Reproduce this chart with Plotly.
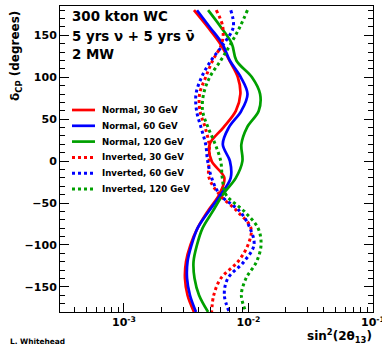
import plotly.graph_objects as go

# ---------------- data ----------------
delta_cp = [180, 160, 140, 120, 100, 80, 60, 40, 20, 0,
            -20, -40, -60, -80, -100, -120, -140, -160, -180]

normal_30 = [0.00365, 0.00470, 0.00593, 0.00703, 0.00822, 0.00861, 0.00792, 0.00628, 0.00488, 0.00506,
             0.00640, 0.00582, 0.00470, 0.00390, 0.00342, 0.00315, 0.00309, 0.00324, 0.00365]
normal_60 = [0.00386, 0.00488, 0.00616, 0.00708, 0.00869, 0.00982, 0.00877, 0.00695, 0.00622, 0.00710,
             0.00720, 0.00599, 0.00479, 0.00390, 0.00349, 0.00324, 0.00321, 0.00339, 0.00379]
normal_120 = [0.00474, 0.00599, 0.00735, 0.00799, 0.01067, 0.01240, 0.01210, 0.00973, 0.00877, 0.00894,
              0.00792, 0.00622, 0.00516, 0.00428, 0.00386, 0.00362, 0.00369, 0.00401, 0.00474]
inverted_30 = [0.00551, 0.00622, 0.00610, 0.00516, 0.00453, 0.00405, 0.00408, 0.00449, 0.00483, 0.00483,
               0.00483, 0.00585, 0.00814, 0.01047, 0.00991, 0.00822, 0.00599, 0.00526, 0.00506]
inverted_60 = [0.00721, 0.00756, 0.00634, 0.00501, 0.00420, 0.00379, 0.00383, 0.00416, 0.00453, 0.00470,
               0.00506, 0.00590, 0.00853, 0.01028, 0.01108, 0.00920, 0.00682, 0.00640, 0.00702]
inverted_120 = [0.00982, 0.00853, 0.00721, 0.00599, 0.00488, 0.00436, 0.00428, 0.00474, 0.00541, 0.00599,
                0.00616, 0.00660, 0.00925, 0.01194, 0.01262, 0.01161, 0.00955, 0.00877, 0.00955]

series_names = ["Normal, 30 GeV", "Normal, 60 GeV", "Normal, 120 GeV",
                "Inverted, 30 GeV", "Inverted, 60 GeV", "Inverted, 120 GeV"]
series_values = [normal_30, normal_60, normal_120, inverted_30, inverted_60, inverted_120]
series_colors = ["#ff0000", "#0000ff", "#00a000", "#ff0000", "#0000ff", "#00a000"]
series_dash = ["solid", "solid", "solid", "dot", "dot", "dot"]

x_tick_vals = [1e-3, 1e-2, 1e-1]
x_tick_text = ["10<sup>-3</sup>", "10<sup>-2</sup>", "10<sup>-1</sup>"]
y_tick_vals = [-150, -100, -50, 0, 50, 100, 150]

# ---------------- layout geometry ----------------
W, H = 382, 346
ML, MR, MT, MB = 60, 9, 6, 34
PW, PH = W - ML - MR, H - MT - MB
FONT = "DejaVu Sans"
LW_SOLID, LW_DOT = 2.7, 3.0


def px_x(px):
    return (px - ML) / PW


def px_y(py):
    return (H - MB - py) / PH


fig = go.Figure()
for name, vals, col, dash in zip(series_names, series_values, series_colors, series_dash):
    fig.add_trace(go.Scatter(
        x=vals, y=delta_cp, mode="lines", name=name, showlegend=False,
        line=dict(color=col, width=LW_SOLID if dash == "solid" else LW_DOT, dash=dash,
                  shape="spline", smoothing=1.0),
    ))

minor_x = [k * 10.0 ** e for e in (-4, -3, -2) for k in range(2, 10)]

fig.update_layout(
    width=W, height=H,
    margin=dict(l=ML, r=MR, t=MT, b=MB, autoexpand=False),
    paper_bgcolor="white", plot_bgcolor="white",
    font=dict(family=FONT, color="black"),
    showlegend=False,
    xaxis=dict(
        type="log", range=[-3.514, -0.9995], automargin=False,
        showgrid=False, zeroline=False,
        showline=True, linecolor="black", linewidth=1, mirror=True,
        ticks="inside", ticklen=9, tickwidth=1, tickcolor="black",
        tickvals=x_tick_vals, ticktext=x_tick_text, ticklabeloverflow="allow",
        tickfont=dict(family=FONT, size=11, weight="bold"),
        minor=dict(ticks="inside", ticklen=5, tickvals=minor_x, tickcolor="black", showgrid=False),
    ),
    yaxis=dict(
        range=[-180, 185], automargin=False,
        showgrid=False, zeroline=False,
        showline=True, linecolor="black", linewidth=1, mirror="ticks",
        ticks="inside", ticklen=9, tickwidth=1, tickcolor="black",
        tickvals=y_tick_vals,
        tickfont=dict(family=FONT, size=11, weight="bold"),
        minor=dict(ticks="inside", ticklen=5, dtick=10, tick0=0, tickcolor="black", showgrid=False),
    ),
)

annotations = []
# header text
for i, txt in enumerate(["300 kton WC", "5 yrs \u03bd + 5 yrs \u03bd\u0304", "2 MW"]):
    annotations.append(dict(x=px_x(70), y=px_y(17 + 19 * i), xref="paper", yref="paper",
                            text=f"<b>{txt}</b>", showarrow=False, xanchor="left", yanchor="middle",
                            font=dict(family=FONT, size=13.4)))

# legend (built from the series definitions)
shapes = []
for i, (name, col, dash) in enumerate(zip(series_names, series_colors, series_dash)):
    yc = px_y(110 + 15.8 * i)
    shapes.append(dict(type="line", xref="paper", yref="paper",
                       x0=px_x(72), x1=px_x(95), y0=yc, y1=yc,
                       line=dict(color=col, width=LW_SOLID if dash == "solid" else LW_DOT, dash=dash)))
    annotations.append(dict(x=px_x(100), y=yc, xref="paper", yref="paper",
                            text=f"<b>{name}</b>", showarrow=False, xanchor="left", yanchor="middle",
                            font=dict(family=FONT, size=8.6)))

# axis titles
annotations.append(dict(x=px_x(16), y=px_y(9), xref="paper", yref="paper",
                        text="<b>\u03b4<sub>CP</sub> (degrees)</b>", textangle=-90,
                        showarrow=False, xanchor="center", yanchor="top",
                        font=dict(family=FONT, size=12)))
annotations.append(dict(x=px_x(374), y=px_y(336), xref="paper", yref="paper",
                        text="<b>sin<sup>2</sup>(2\u03b8<sub>13</sub>)</b>",
                        showarrow=False, xanchor="right", yanchor="middle",
                        font=dict(family=FONT, size=12)))
annotations.append(dict(x=px_x(8), y=px_y(341), xref="paper", yref="paper",
                        text="<b>L. Whitehead</b>", showarrow=False, xanchor="left", yanchor="middle",
                        font=dict(family=FONT, size=7.4)))

fig.update_layout(annotations=annotations, shapes=shapes)
fig.write_html("out.html", config={"displayModeBar": False},
               post_script="document.body.style.margin='0px';")
